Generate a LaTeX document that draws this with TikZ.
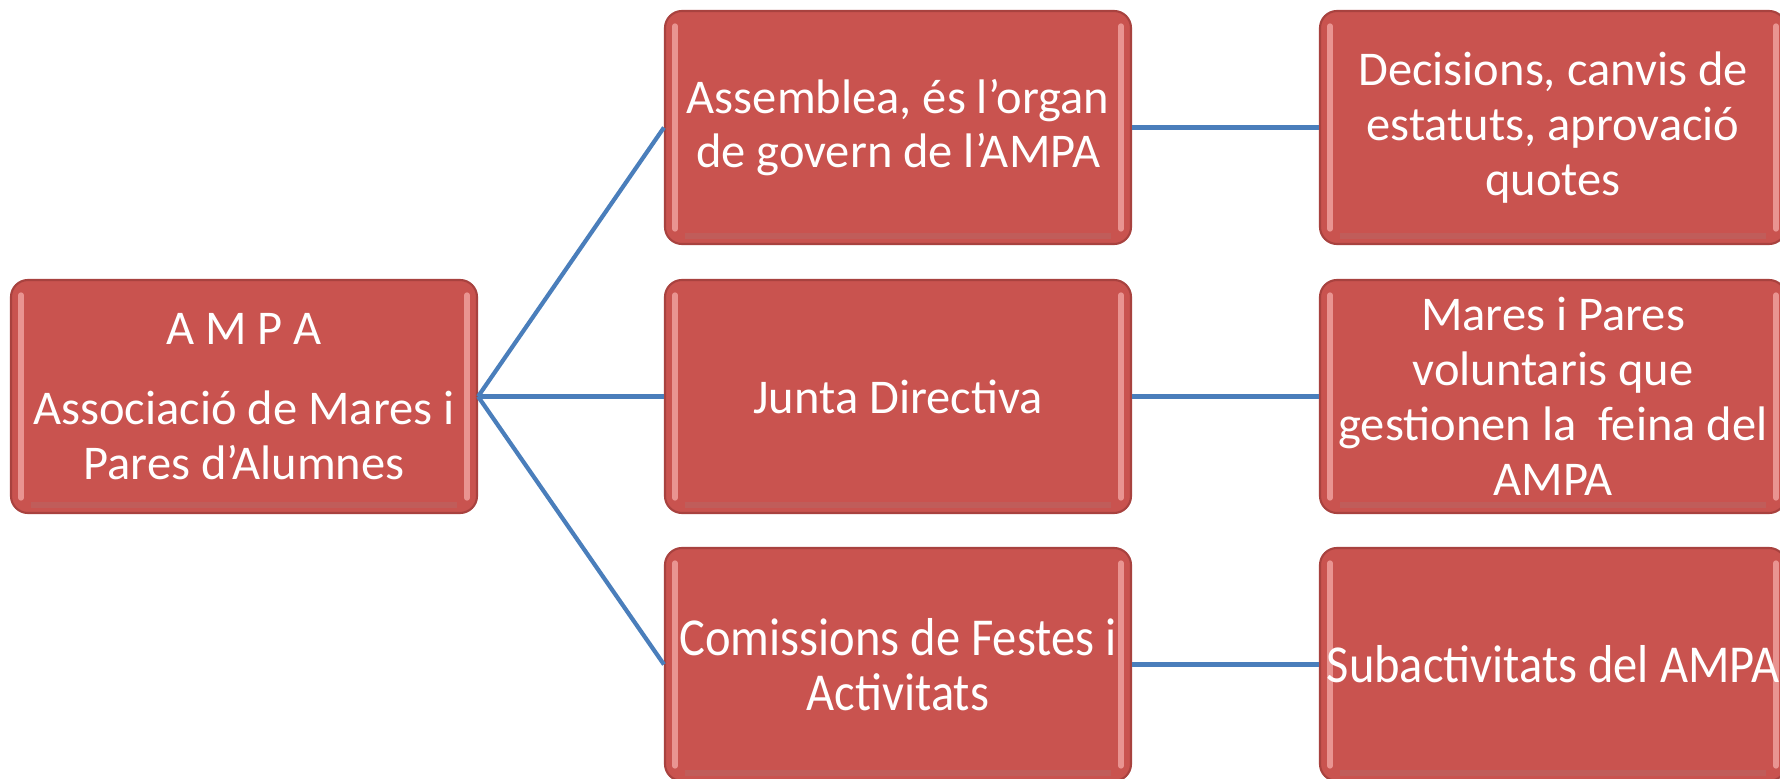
\documentclass[tikz,border=0pt]{standalone}
\usepackage{fontspec}
\setmainfont{Carlito}
\usepackage{tikz}
\definecolor{caixavermella}{HTML}{C9534F}
\definecolor{voraobscura}{HTML}{A8423F}
\definecolor{llumvora}{HTML}{F2A5A2}
\definecolor{liniablava}{HTML}{4A7EBB}

\begin{document}
\begin{tikzpicture}[
	caixa/.style={draw=voraobscura,fill=caixavermella,rounded corners=0.17cm,line width=0.6pt,
		minimum width=4.66cm,minimum height=2.33cm,inner sep=0pt,align=center,text=white,
		font=\fontsize{13.8}{15.6}\selectfont,
		path picture={
			\draw[llumvora,line width=1.5pt,line cap=round,opacity=.8]
				([shift={(0.1,-0.15)}]path picture bounding box.north west) -- ([shift={(0.1,0.15)}]path picture bounding box.south west);
			\draw[llumvora,line width=1.5pt,line cap=round,opacity=.8]
				([shift={(-0.1,-0.15)}]path picture bounding box.north east) -- ([shift={(-0.1,0.15)}]path picture bounding box.south east);
			\draw[voraobscura!80,line width=1.5pt,opacity=.5]
				([shift={(0.2,0.08)}]path picture bounding box.south west) -- ([shift={(-0.2,0.08)}]path picture bounding box.south east);
		}},
	connector/.style={draw=liniablava,line width=1.2pt}]
	\useasboundingbox (0,0) rectangle (17.8,7.79);
	% arrel
	\node [caixa] (ampa) at (2.44,3.825) {A M P A\\[7pt]Associació de Mares i\\Pares d’Alumnes};
	% segon nivell
	\node [caixa] (assemblea) at (8.98,6.515) {Assemblea, és l’organ\\de govern de l’AMPA};
	\node [caixa] (junta) at (8.98,3.825) {Junta Directiva};
	\node [caixa] (comissions) at (8.98,1.145) {\scalebox{1}[1.1]{Comissions de Festes i}\\\scalebox{1}[1.1]{Activitats}};
	% tercer nivell
	\node [caixa] (decisions) at (15.53,6.515) {Decisions, canvis de\\estatuts, aprovació\\quotes};
	\node [caixa] (mares) at (15.53,3.825) {Mares i Pares\\voluntaris que\\gestionen la\ \ feina del\\AMPA};
	\node [caixa] (subactivitats) at (15.53,1.145) {\scalebox{1}[1.1]{Subactivitats del AMPA}};
	% connectors
	\draw [connector] (ampa.east) -- (assemblea.west);
	\draw [connector] (ampa.east) -- (junta.west);
	\draw [connector] (ampa.east) -- (comissions.west);
	\draw [connector] (assemblea.east) -- (decisions.west);
	\draw [connector] (junta.east) -- (mares.west);
	\draw [connector] (comissions.east) -- (subactivitats.west);
\end{tikzpicture}
\end{document}
